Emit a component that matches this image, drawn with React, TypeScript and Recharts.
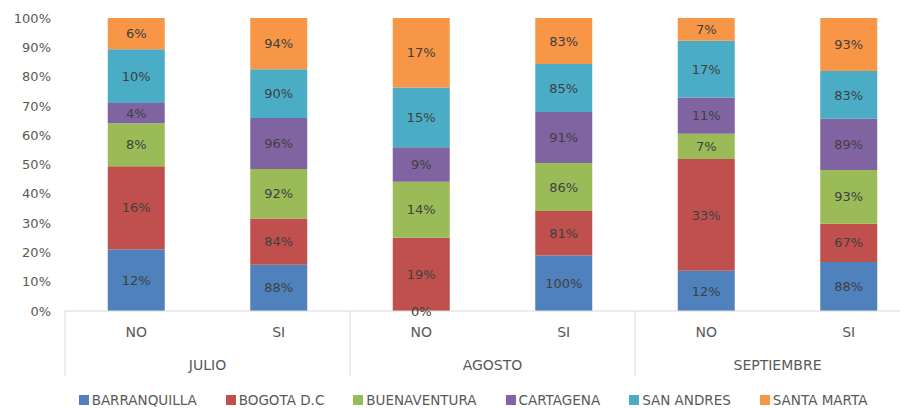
import React from 'react';
import { BarChart, Bar, XAxis, YAxis, Legend, LabelList, ReferenceDot } from 'recharts';

const months = ['JULIO', 'AGOSTO', 'SEPTIEMBRE'];
const answers = ['NO', 'SI'];
const seriesNames = ['BARRANQUILLA', 'BOGOTA D.C', 'BUENAVENTURA', 'CARTAGENA', 'SAN ANDRES', 'SANTA MARTA'];
const colors = ['#4F81BD', '#C0504D', '#9BBB59', '#8064A2', '#4BACC6', '#F79646'];
const yTicks = [0, 10, 20, 30, 40, 50, 60, 70, 80, 90, 100];

// share of each column (stack height, %), per category JULIO NO, JULIO SI, AGOSTO NO, AGOSTO SI, SEPT NO, SEPT SI
const barranquilla = [21.0, 15.8, 0, 18.9, 13.7, 16.7];
const bogota = [28.4, 15.8, 25.0, 15.2, 38.2, 13.1];
const buenaventura = [14.7, 16.9, 19.1, 16.4, 8.6, 18.3];
const cartagena = [6.9, 17.4, 11.8, 17.4, 12.4, 17.5];
const sanAndres = [18.3, 16.6, 20.4, 16.4, 19.3, 16.3];
const santaMarta = [10.7, 17.5, 23.7, 15.7, 7.8, 18.1];

// printed labels (%)
const barranquillaLbl = [12, 88, 0, 100, 12, 88];
const bogotaLbl = [16, 84, 19, 81, 33, 67];
const buenaventuraLbl = [8, 92, 14, 86, 7, 93];
const cartagenaLbl = [4, 96, 9, 91, 11, 89];
const sanAndresLbl = [10, 90, 15, 85, 17, 83];
const santaMartaLbl = [6, 94, 17, 83, 7, 93];

const values = [barranquilla, bogota, buenaventura, cartagena, sanAndres, santaMarta];
const labels = [barranquillaLbl, bogotaLbl, buenaventuraLbl, cartagenaLbl, sanAndresLbl, santaMartaLbl];

const data = months.flatMap((m, mi) =>
  answers.map((a, ai) => {
    const i = mi * 2 + ai;
    const row: any = { key: `${m}-${a}`, month: m, answer: a };
    seriesNames.forEach((_, s) => {
      row[`v${s}`] = values[s][i];
      row[`l${s}`] = `${labels[s][i]}%`;
    });
    return row;
  })
);

// zero-height segments still carry a printed label (drawn at the stack base)
const zeroLabels: { key: string; base: number; text: string }[] = [];
data.forEach((row, i) => {
  let base = 0;
  seriesNames.forEach((_, s) => {
    if (values[s][i] === 0) zeroLabels.push({ key: row.key, base, text: row[`l${s}`] });
    base += values[s][i];
  });
});

const FONT = '"DejaVu Sans", sans-serif';
const AXIS_GRAY = '#D9D9D9';
const TEXT_GRAY = '#595959';

const XTick = (props: any) => {
  const { x, y, payload, index } = props;
  const half = payload?.offset ?? 71.25;
  const idx = payload?.index ?? index;
  const row = data[idx];
  return (
    <g>
      <text x={x} y={y} dy={26} textAnchor="middle" fontSize={14} fill={TEXT_GRAY} fontFamily={FONT}>
        {row ? row.answer : ''}
      </text>
      {idx % 2 === 0 && (
        <>
          <line x1={x - half} y1={y} x2={x - half} y2={y + 65} stroke={AXIS_GRAY} strokeWidth={1} />
          <text x={x + half} y={y} dy={59} textAnchor="middle" fontSize={14} fill={TEXT_GRAY} fontFamily={FONT}>
            {row ? row.month : ''}
          </text>
        </>
      )}
      {idx === data.length - 1 && (
        <line x1={x + half} y1={y} x2={x + half} y2={y + 65} stroke={AXIS_GRAY} strokeWidth={1} />
      )}
    </g>
  );
};

const LegendContent = () => (
  <div
    style={{
      display: 'flex',
      justifyContent: 'center',
      alignItems: 'flex-end',
      height: 30,
      boxSizing: 'border-box',
      fontFamily: FONT,
      fontSize: 13.5,
      lineHeight: '16px',
      color: TEXT_GRAY,
      gap: 29,
    }}
  >
    {seriesNames.map((n, i) => (
      <div key={n} style={{ display: 'flex', alignItems: 'center' }}>
        <span style={{ display: 'inline-block', width: 10, height: 10, background: colors[i], marginRight: 3 }} />
        <span>{n}</span>
      </div>
    ))}
  </div>
);

export default function App() {
  return (
    <div style={{ position: 'fixed', left: 0, top: 0, width: 900, height: 408, overflow: 'hidden', background: '#fff' }}>
      <BarChart
        width={920}
        height={408}
        data={data}
        margin={{ top: 18, right: 0, bottom: 0, left: 0 }}
        barCategoryGap="30%"
      >
        <XAxis
          dataKey="key"
          interval={0}
          tickLine={false}
          tickSize={0}
          tickMargin={0}
          height={67}
          axisLine={{ stroke: AXIS_GRAY }}
          tick={<XTick />}
        />
        <YAxis
          width={65}
          domain={[0, 100]}
          ticks={yTicks}
          interval={0}
          axisLine={false}
          tickLine={false}
          tickMargin={8}
          tickFormatter={(v: number) => `${v}%`}
          tick={{ fontSize: 13, fill: TEXT_GRAY, fontFamily: FONT }}
        />
        <Legend
          verticalAlign="bottom"
          content={<LegendContent />}
          wrapperStyle={{ left: 13, bottom: 0 }}
        />
        {seriesNames.map((n, s) => (
          <Bar key={n} dataKey={`v${s}`} name={n} stackId="a" fill={colors[s]} isAnimationActive={false}>
            <LabelList dataKey={`l${s}`} position="center" fill="#404040" fontSize={13} fontFamily={FONT} />
          </Bar>
        ))}
        {zeroLabels.map((z) => (
          <ReferenceDot
            key={`zero-${z.key}-${z.base}`}
            x={z.key}
            y={z.base}
            r={0}
            fill="none"
            stroke="none"
            ifOverflow="visible"
            label={{ value: z.text, position: 'center', fill: '#404040', fontSize: 13, fontFamily: FONT }}
          />
        ))}
      </BarChart>
    </div>
  );
}
